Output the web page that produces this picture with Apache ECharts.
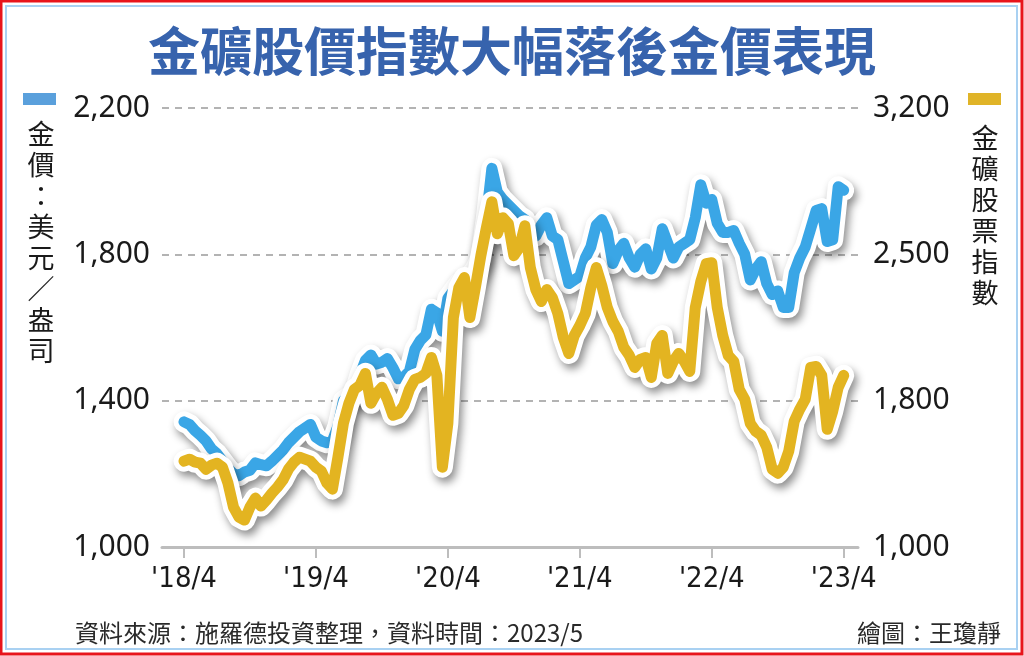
<!DOCTYPE html>
<html><head><meta charset="utf-8">
<script src="https://cdn.jsdelivr.net/npm/echarts@6/dist/echarts.min.js"></script>
<style>html,body{margin:0;padding:0;background:#fff}#c{width:1024px;height:656px}</style>
</head><body><div id="c"></div>
<script>
// Half-month steps starting April 2018 (0 = '18/4)
const xTickValues = [0, 12, 24, 36, 48, 60];
const xTickLabels = ["'18/4", "'19/4", "'20/4", "'21/4", "'22/4", "'23/4"];
const leftTickLabels = ['1,000', '1,400', '1,800', '2,200'];
const rightTickLabels = ['1,000', '1,800', '2,500', '3,200'];

// 金價 (USD/oz)
const goldPrice = [
 1342,1335,1318,1305,1290,1268,1255,1235,1215,1200,
 1195,1205,1210,1230,1225,1222,1235,1250,1265,1285,
 1300,1315,1325,1335,1300,1290,1285,1290,1330,1400,
 1410,1420,1470,1510,1525,1500,1505,1515,1490,1460,
 1465,1480,1540,1565,1580,1650,1640,1590,1680,1700,
 1720,1730,1740,1760,1790,1900,2035,1970,1950,1935,
 1920,1905,1895,1860,1850,1880,1900,1850,1840,1780,
 1720,1730,1740,1790,1820,1880,1895,1860,1775,1810,
 1830,1790,1765,1800,1815,1760,1790,1870,1830,1790,
 1820,1830,1840,1900,1990,1940,1950,1885,1860,1860,
 1865,1830,1800,1730,1760,1780,1720,1690,1700,1655,
 1655,1750,1790,1820,1870,1920,1925,1835,1840,1985,
 1975
];
// 金礦股票指數
const minersIndex = [
 1430,1440,1425,1420,1390,1410,1420,1400,1320,1200,
 1150,1135,1200,1245,1205,1235,1270,1300,1336,1390,
 1425,1450,1440,1430,1400,1380,1320,1290,1450,1620,
 1720,1790,1810,1870,1720,1770,1800,1740,1660,1670,
 1710,1790,1840,1850,1870,1950,1860,1400,1620,2150,
 2300,2350,2150,2300,2460,2600,2730,2570,2650,2620,
 2460,2500,2610,2400,2290,2230,2290,2250,2170,2050,
 1970,2060,2110,2170,2300,2400,2310,2200,2130,2080,
 2000,1960,1900,1940,1950,1850,2020,2060,1870,1930,
 1970,1930,1880,2200,2330,2420,2425,2200,2060,1960,
 1930,1790,1740,1620,1580,1560,1500,1390,1370,1400,
 1480,1630,1690,1740,1900,1905,1860,1590,1680,1800,
 1860
];

const toPairs = arr => arr.map((v, i) => [i * 0.5, v]);
const blueData = toPairs(goldPrice);
const goldData = toPairs(minersIndex);

const BLUE = '#3aa6e6';
const GOLD = '#e3b421';
const CJK = "'Noto Sans CJK TC', 'Noto Sans', sans-serif";
const NUM = "'Noto Sans', Roboto, sans-serif";
const NARROW = "'Liberation Sans Narrow', 'DejaVu Sans Condensed', 'Roboto Condensed', 'Noto Sans', sans-serif";

const outline = (data, yIdx, z) => ({
  type: 'line', data, yAxisIndex: yIdx, symbol: 'none', z, silent: true,
  lineStyle: { color: '#ffffff', width: 21, cap: 'round', join: 'round',
    shadowColor: 'rgba(0,0,0,0.45)', shadowBlur: 9, shadowOffsetX: 3, shadowOffsetY: 5 }
});
const main = (data, yIdx, z, color) => ({
  type: 'line', data, yAxisIndex: yIdx, symbol: 'none', z, silent: true,
  lineStyle: { color, width: 11, cap: 'round', join: 'round' }
});

const chart = echarts.init(document.getElementById('c'), null, { renderer: 'canvas' });
chart.setOption({
  animation: false,
  backgroundColor: '#ffffff',
  title: {
    text: '金礦股價指數大幅落後金價表現', left: 'center', top: 20,
    textStyle: { fontSize: 52, fontWeight: 'bold', color: '#3763ad', fontFamily: CJK }
  },
  grid: { left: 162, right: 166, top: 108, bottom: 109 },
  xAxis: {
    type: 'value', min: -2, max: 61.3,
    axisLine: { lineStyle: { color: '#bdbdbd', width: 3 } },
    axisTick: { show: true, customValues: xTickValues, length: 11, lineStyle: { color: '#bdbdbd', width: 2 } },
    axisLabel: {
      customValues: xTickValues, margin: 18, fontSize: 29, color: '#1a1a1a', fontFamily: NARROW,
      formatter: v => xTickLabels[xTickValues.indexOf(v)]
    },
    splitLine: { show: false }
  },
  yAxis: [
    {
      type: 'value', min: 1000, max: 2200, interval: 400, position: 'left',
      axisLine: { show: false }, axisTick: { show: false },
      axisLabel: { margin: 12, fontSize: 30, color: '#1a1a1a', fontFamily: NUM,
        formatter: (v) => leftTickLabels[Math.round((v - 1000) / 400)] },
      splitLine: { show: true, lineStyle: { color: '#9a9a9a', width: 1.5, type: [7, 6] } }
    },
    {
      type: 'value', min: 1000, max: 3200, position: 'right',
      axisLine: { show: false }, axisTick: { show: false },
      axisLabel: { margin: 15, fontSize: 30, color: '#1a1a1a', fontFamily: NUM,
        customValues: [1000, 1000 + 2200 / 3, 1000 + 4400 / 3, 3200],
        formatter: (v) => rightTickLabels[Math.round((v - 1000) / (2200 / 3))] },
      splitLine: { show: false }
    }
  ],
  series: [
    outline(blueData, 0, 1),
    main(blueData, 0, 2, BLUE),
    outline(goldData, 1, 3),
    main(goldData, 1, 4, GOLD)
  ],
  graphic: [
    { type: 'rect', shape: { x: 1, y: 1, width: 1021, height: 653 }, style: { fill: 'none', stroke: '#e8141b', lineWidth: 3 }, z: 100 },
    { type: 'rect', shape: { x: 6, y: 6, width: 1011, height: 643 }, style: { fill: 'none', stroke: '#a9d1f2', lineWidth: 2 }, z: 100 },
    { type: 'rect', shape: { x: 23, y: 93, width: 33, height: 12 }, style: { fill: '#5aa0dc' }, z: 100 },
    { type: 'rect', shape: { x: 968, y: 93, width: 33, height: 12 }, style: { fill: '#e0b428' }, z: 100 },
    { type: 'text', x: 41, y: 118, z: 100, style: { text: '金\n價\n：\n美\n元\n／\n盎\n司', fill: '#1a1a1a', font: '27px ' + CJK, lineHeight: 31, textAlign: 'center', textVerticalAlign: 'top' } },
    { type: 'text', x: 985, y: 122, z: 100, style: { text: '金\n礦\n股\n票\n指\n數', fill: '#1a1a1a', font: '27px ' + CJK, lineHeight: 31, textAlign: 'center', textVerticalAlign: 'top' } },
    { type: 'text', x: 75, y: 633, z: 100, style: { text: '資料來源：施羅德投資整理，資料時間：2023/5', fill: '#2a2a2a', font: '24px ' + CJK, textAlign: 'left', textVerticalAlign: 'middle' } },
    { type: 'text', x: 1001, y: 633, z: 100, style: { text: '繪圖：王瓊靜', fill: '#2a2a2a', font: '24px ' + CJK, textAlign: 'right', textVerticalAlign: 'middle' } }
  ]
});
</script>
</body></html>
